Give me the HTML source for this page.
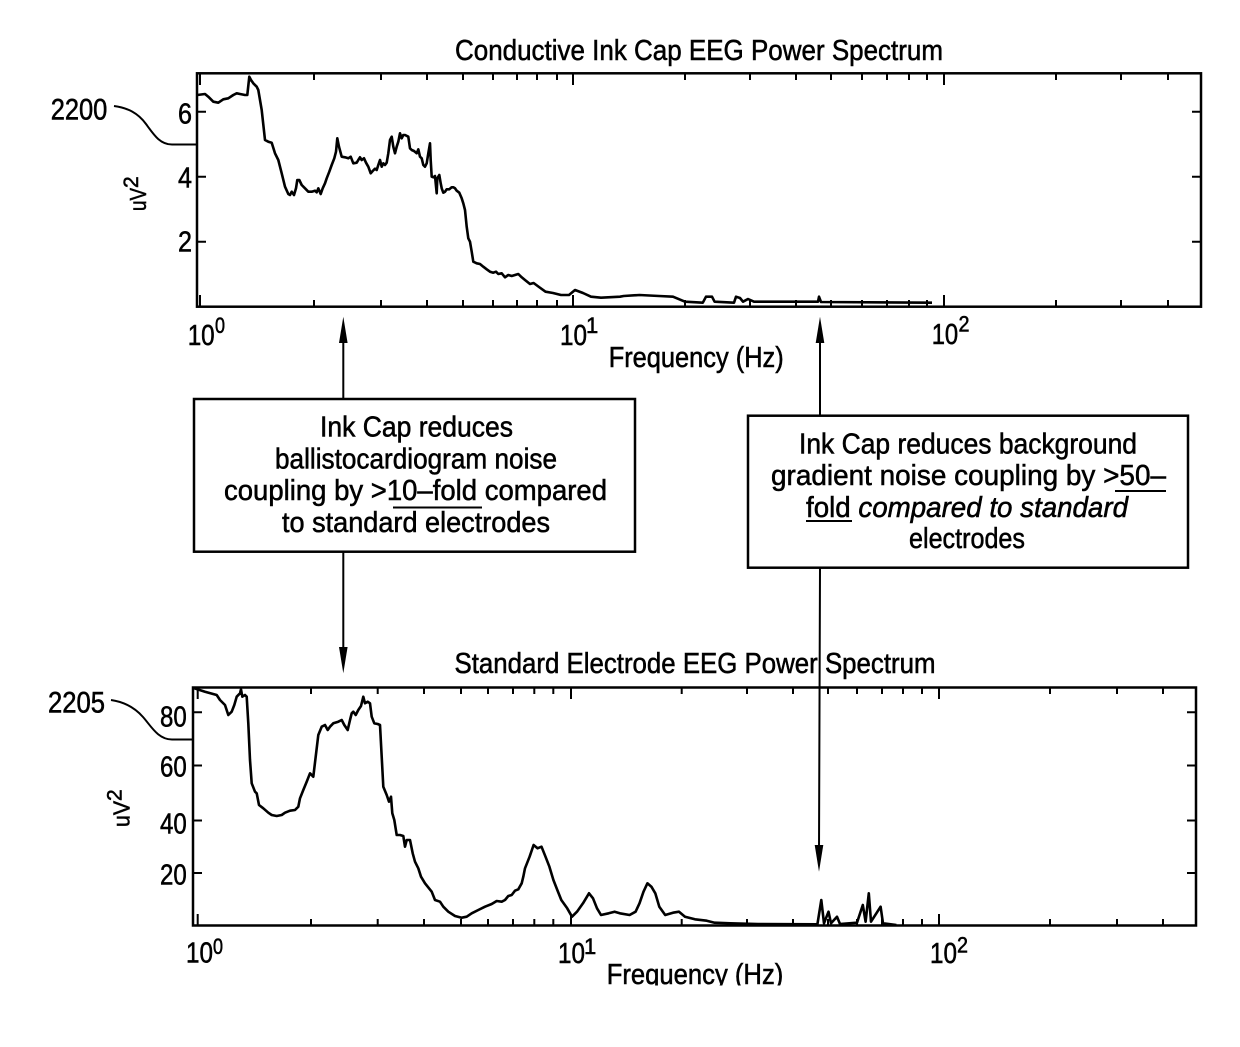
<!DOCTYPE html>
<html><head><meta charset="utf-8"><style>
html,body{margin:0;padding:0;background:#fff;}
svg{display:block;}
text{font-family:"Liberation Sans",sans-serif;fill:#000;stroke:#000;stroke-width:0.55px;}
</style></head><body>
<svg width="1240" height="1047" viewBox="0 0 1240 1047" xmlns="http://www.w3.org/2000/svg">
<rect width="1240" height="1047" fill="#fff"/>

<!-- ===== TOP CHART ===== -->
<text x="455" y="60" font-size="29" textLength="488" lengthAdjust="spacingAndGlyphs">Conductive  Ink  Cap  EEG  Power  Spectrum</text>
<rect x="197" y="73.3" width="1004" height="233.4" fill="none" stroke="#000" stroke-width="2.5"/>
<g stroke="#000" stroke-width="2" fill="none">
<path d="M200,73 v12 M314,73 v7 M381,73 v7 M427,73 v7 M463,73 v7 M493,73 v7 M517,73 v7 M537,73 v7 M557,73 v7 M573,73 v12 M685,73 v7 M750,73 v7 M796,73 v7 M831,73 v7 M862,73 v7 M887,73 v7 M909,73 v7 M927,73 v7 M944,73 v12 M1056,73 v7 M1121,73 v7 M1168,73 v7"/>
<path d="M200,307 v-12 M314,307 v-7 M381,307 v-7 M427,307 v-7 M463,307 v-7 M493,307 v-7 M517,307 v-7 M537,307 v-7 M557,307 v-7 M573,307 v-12 M685,307 v-7 M750,307 v-7 M796,307 v-7 M831,307 v-7 M862,307 v-7 M887,307 v-7 M909,307 v-7 M927,307 v-7 M944,307 v-12 M1056,307 v-7 M1121,307 v-7 M1168,307 v-7"/>
<path d="M197,111.7 h9 M197,176.7 h9 M197,241.7 h9 M1201,111.7 h-9 M1201,176.7 h-9 M1201,241.7 h-9"/>
</g>
<text x="178" y="123.3" font-size="29" textLength="14" lengthAdjust="spacingAndGlyphs">6</text>
<text x="178" y="187.3" font-size="29" textLength="14" lengthAdjust="spacingAndGlyphs">4</text>
<text x="178" y="251.7" font-size="29" textLength="14" lengthAdjust="spacingAndGlyphs">2</text>
<text transform="translate(146,211) rotate(-90)" font-size="23"><tspan textLength="23" lengthAdjust="spacingAndGlyphs">uV</tspan><tspan dy="-8" font-size="21">2</tspan></text>

<polyline fill="none" stroke="#000" stroke-width="2.6" stroke-linejoin="round" points="197.3,95 205,94 208.3,96.7 213.3,101.7 218.3,102.7 223.3,99.3 228.3,98.3 233.3,95 236.7,93.3 240,94 245,95 247.3,95 249.3,76.7 251,80 253.3,83.3 256.7,86.7 258.3,90 261.7,110 265,140 268.3,141.7 271.7,142.7 275,153.3 278.3,160 281.7,173.3 285,186.7 288.3,194 290,195 291.7,191.7 294,195 296,188.3 297.3,180 299.3,180 301.7,185 305,188.3 308.3,191.7 311.7,191.7 315,190.7 316.7,192.3 318.3,188.3 320.7,194 322.7,188.3 325,183.3 326.7,178.3 329.3,171.7 331.7,165 334.3,158.3 336,151.7 337.3,138.3 339,146.7 341.7,156.7 345,157.3 348.3,158.3 350.7,156.7 353.3,163.3 356.7,162.7 358.3,160 360,157.3 361.7,160 364,158.3 366,162.7 368.3,166.7 370.7,173.3 372.7,171 375,168.7 376.7,170 378.3,165 380,160 381.7,166.7 383.3,163.3 385,165 386.7,162.7 388.3,153.3 390,140 391.7,136.7 393.3,146.7 395,153.3 396.7,146.7 398.3,141.7 400,133.3 401.7,138.3 403.3,135 405,135 408.3,136.7 410,148.3 411.7,150 414,151 416.7,153.3 418.3,149.3 420,156.7 421.7,158.3 423.3,165 425,166.7 426.7,163.3 428.3,153.3 430,143.3 430.7,160 431.7,176.7 433.3,177.3 435,176 436.7,193.3 437.3,178.3 439.3,175 440.7,183.3 441.7,188.3 443.3,192.7 445,191.7 446.7,189.3 449.3,189.3 451.7,187.3 453.3,187.3 455,188.3 456.7,190.7 459.3,192.7 461.7,198.3 463.3,203.3 465,210 466.7,226.7 468.3,238.3 470,241.7 471.7,251.7 473.3,261.7 476.7,263.3 480,264 483.3,266.7 486.7,269.3 490,271.7 493.3,272.7 496,271.7 498.3,274 501.7,273.3 505,277.3 508.3,275 511.7,276 515,275 518.3,274 521.7,277.3 525,280 530,284 533.6,283 539,287 545.5,291.7 553,293 561,295 569,295 575,290 583,293 591,296.7 601,297.7 620,296.7 623.7,296 639.5,295 659,296 673,296.7 685,301.7 702.8,302.7 706,296.7 712,296.7 714.6,301.7 734,302.7 736,296.7 740,298 743,301.7 748,299 754,301.7 795.6,301.7 818,301.7 819,296.7 821,302 932,302.7"/>

<text x="187.7" y="345" font-size="29" textLength="27" lengthAdjust="spacingAndGlyphs">10</text>
<text x="215" y="333" font-size="22" textLength="10" lengthAdjust="spacingAndGlyphs">0</text>
<text x="560" y="345" font-size="29" textLength="27" lengthAdjust="spacingAndGlyphs">10</text>
<text x="586" y="333" font-size="22">1</text>
<text x="931.7" y="344" font-size="29" textLength="26.5" lengthAdjust="spacingAndGlyphs">10</text>
<text x="958.5" y="331.7" font-size="22" textLength="11" lengthAdjust="spacingAndGlyphs">2</text>
<text x="608.7" y="367" font-size="29" textLength="175" lengthAdjust="spacingAndGlyphs">Frequency  (Hz)</text>

<text x="50.7" y="119.3" font-size="30" textLength="56.6" lengthAdjust="spacingAndGlyphs">2200</text>
<path d="M114,106 C128,108 138,113 146,124 S160,144.5 172,144.5 L197,144.5" fill="none" stroke="#000" stroke-width="2"/>

<!-- ===== ANNOTATION BOXES & ARROWS ===== -->
<g stroke="#000" stroke-width="2" fill="none">
<path d="M343.3,338 V399 M343.3,551.7 V650"/>
<path d="M820,338 V415.7 M820,567.7 L819,850"/>
</g>
<g fill="#000">
<polygon points="343.3,316.7 339,343 347.6,343"/>
<polygon points="343.3,673.3 339,647 347.6,647"/>
<polygon points="820,316.7 815.7,343 824.3,343"/>
<polygon points="819,871.7 814.7,845 823.3,845"/>
</g>

<rect x="194" y="399" width="441" height="152.7" fill="#fff" stroke="#000" stroke-width="2.5"/>
<text x="320" y="436.7" font-size="29" textLength="193" lengthAdjust="spacingAndGlyphs">Ink  Cap  reduces</text>
<text x="275" y="468.3" font-size="29" textLength="282" lengthAdjust="spacingAndGlyphs">ballistocardiogram  noise</text>
<text x="224" y="500" font-size="29" textLength="383" lengthAdjust="spacingAndGlyphs">coupling  by  &gt;10&#8211;fold  compared</text>
<text x="282" y="532" font-size="29" textLength="268" lengthAdjust="spacingAndGlyphs">to  standard  electrodes</text>
<line x1="393" y1="507.5" x2="482" y2="507.5" stroke="#000" stroke-width="2"/>

<rect x="748" y="415.7" width="440" height="152" fill="#fff" stroke="#000" stroke-width="2.5"/>
<text x="799" y="453.3" font-size="29" textLength="338" lengthAdjust="spacingAndGlyphs">Ink  Cap  reduces  background</text>
<text x="771" y="485" font-size="29" textLength="395" lengthAdjust="spacingAndGlyphs">gradient  noise  coupling  by  &gt;50&#8211;</text>
<text x="806" y="517" font-size="29" textLength="322" lengthAdjust="spacingAndGlyphs">fold  <tspan font-style="italic">compared  to  standard</tspan></text>
<text x="909" y="548" font-size="29" textLength="116" lengthAdjust="spacingAndGlyphs">electrodes</text>
<line x1="1115" y1="491" x2="1166" y2="491" stroke="#000" stroke-width="2"/>
<line x1="806" y1="521" x2="852" y2="521" stroke="#000" stroke-width="2"/>

<!-- ===== BOTTOM CHART ===== -->
<text x="454.5" y="673" font-size="29" textLength="481" lengthAdjust="spacingAndGlyphs">Standard  Electrode  EEG  Power  Spectrum</text>
<rect x="193" y="687.5" width="1003" height="238" fill="none" stroke="#000" stroke-width="2.5"/>
<g stroke="#000" stroke-width="2" fill="none">
<path d="M197.7,687 v12 M311,687 v7 M377.7,687 v7 M424,687 v7 M461,687 v7 M488,687 v7 M513,687 v7 M534.3,687 v7 M553.3,687 v7 M571,687 v12 M681.7,687 v7 M747,687 v7 M793,687 v7 M828,687 v7 M857,687 v7 M882,687 v7 M903,687 v7 M922,687 v7 M939,687 v12 M1050,687 v7 M1117,687 v7 M1163,687 v7"/>
<path d="M197.7,926 v-12 M311,926 v-7 M377.7,926 v-7 M424,926 v-7 M461,926 v-7 M488,926 v-7 M513,926 v-7 M534.3,926 v-7 M553.3,926 v-7 M571,926 v-12 M681.7,926 v-7 M747,926 v-7 M793,926 v-7 M828,926 v-7 M857,926 v-7 M882,926 v-7 M903,926 v-7 M922,926 v-7 M939,926 v-12 M1050,926 v-7 M1117,926 v-7 M1163,926 v-7"/>
<path d="M193,712.3 h9 M193,765.5 h9 M193,820.5 h9 M193,873 h9 M1196,712.3 h-9 M1196,765.5 h-9 M1196,820.5 h-9 M1196,873 h-9"/>
</g>
<text x="160" y="726.7" font-size="29" textLength="26.7" lengthAdjust="spacingAndGlyphs">80</text>
<text x="160" y="776.7" font-size="29" textLength="26.7" lengthAdjust="spacingAndGlyphs">60</text>
<text x="160" y="833.3" font-size="29" textLength="26.7" lengthAdjust="spacingAndGlyphs">40</text>
<text x="160" y="884.5" font-size="29" textLength="26.7" lengthAdjust="spacingAndGlyphs">20</text>
<text transform="translate(129.5,827) rotate(-90)" font-size="23"><tspan textLength="26" lengthAdjust="spacingAndGlyphs">uV</tspan><tspan dy="-8" font-size="21">2</tspan></text>

<polyline fill="none" stroke="#000" stroke-width="2.6" stroke-linejoin="round" points="194.3,688.3 205,691.7 216.7,695 220,700 225,705 228.3,715 231.7,711.7 234.3,705 236.7,696.7 240,693.3 241,689.3 242.3,696.7 245,695 246.7,696.7 248.3,723.3 250,760 251.7,783.3 255,791.7 256.7,793.3 259,805 263.3,808.3 268.3,812.7 271.7,815 276.7,816 281.7,815 285,812.7 290,810.7 295,810 298.3,806.7 300,798.3 303.3,790 306.7,781.7 310,773.3 313.3,776.7 315.7,756.7 318.3,735 321.7,726.7 325,725 327.7,730 330,726.7 333.3,723.3 338.3,721.7 341.7,720 344.3,725 347.7,730 350,720 351.7,713.3 353.3,711.7 355.7,715 358.3,710 361,706 363.3,696.7 365,703.3 367.7,701.7 370,703.3 371.7,716.7 374.3,723.3 377.7,724 380,725 381.7,756.7 383.3,786.7 386.7,795 389,801.7 391,796.7 392.3,813.3 394.3,820 396.7,835 400,835 403.3,836 405,846.7 406.7,840 410,840 412.7,853.3 415,861.7 418.3,868.3 421,876.7 425,883.3 431.7,891.7 435,900 440,901.7 443.3,906.7 448.3,911.7 455,916 461.7,917.7 466.7,916.7 471.7,913.3 478.3,910 485,906.7 491.7,904 496.7,901 501.7,901.7 505,900 508.3,896 511.7,895 515,890.7 518.3,889.3 521.7,883.3 523.3,876.7 525,868.3 529.6,856.7 533.6,845 537.5,848.3 541.5,846.7 545.5,856.7 549.4,866.7 553.4,880 557.3,890 561.3,900 567.2,908.3 572,916.7 577,911.7 583,903.3 589,893.3 593,898.3 597,908.3 601,915 608.7,913.3 614.6,911.7 619.8,913.3 629.6,915 635.6,911.7 639.5,903.3 643.5,891.7 647.4,883.3 651.4,886.7 655.3,893.3 659.3,906.7 665.2,915 673,912.7 679,911.7 685,916.7 694.9,919.3 706.7,920.7 714.6,922.7 730.4,923.3 758,924 817.4,924.3 821.3,900 824,923.3 828.5,911.7 831,923.3 837,916.7 840,924 857,922.7 862.8,905 865.6,921.7 868.8,893.3 871,921.7 880.6,906.7 883,923.3 896.4,925"/>

<text x="186" y="962.5" font-size="29" textLength="27" lengthAdjust="spacingAndGlyphs">10</text>
<text x="213" y="954" font-size="22" textLength="10" lengthAdjust="spacingAndGlyphs">0</text>
<text x="558" y="963" font-size="29" textLength="27" lengthAdjust="spacingAndGlyphs">10</text>
<text x="584" y="954" font-size="22">1</text>
<text x="930" y="963" font-size="29" textLength="27" lengthAdjust="spacingAndGlyphs">10</text>
<text x="957" y="952.5" font-size="22" textLength="11" lengthAdjust="spacingAndGlyphs">2</text>
<text x="606.7" y="984" font-size="29" textLength="176.6" lengthAdjust="spacingAndGlyphs">Frequency  (Hz)</text>
<rect x="560" y="985.5" width="300" height="40" fill="#fff"/>

<text x="48" y="712.7" font-size="30" textLength="57" lengthAdjust="spacingAndGlyphs">2205</text>
<path d="M111,700 C125,702 135,708 143,717 S158,739.5 172,739.5 L193,739.5" fill="none" stroke="#000" stroke-width="2"/>
</svg>
</body></html>
